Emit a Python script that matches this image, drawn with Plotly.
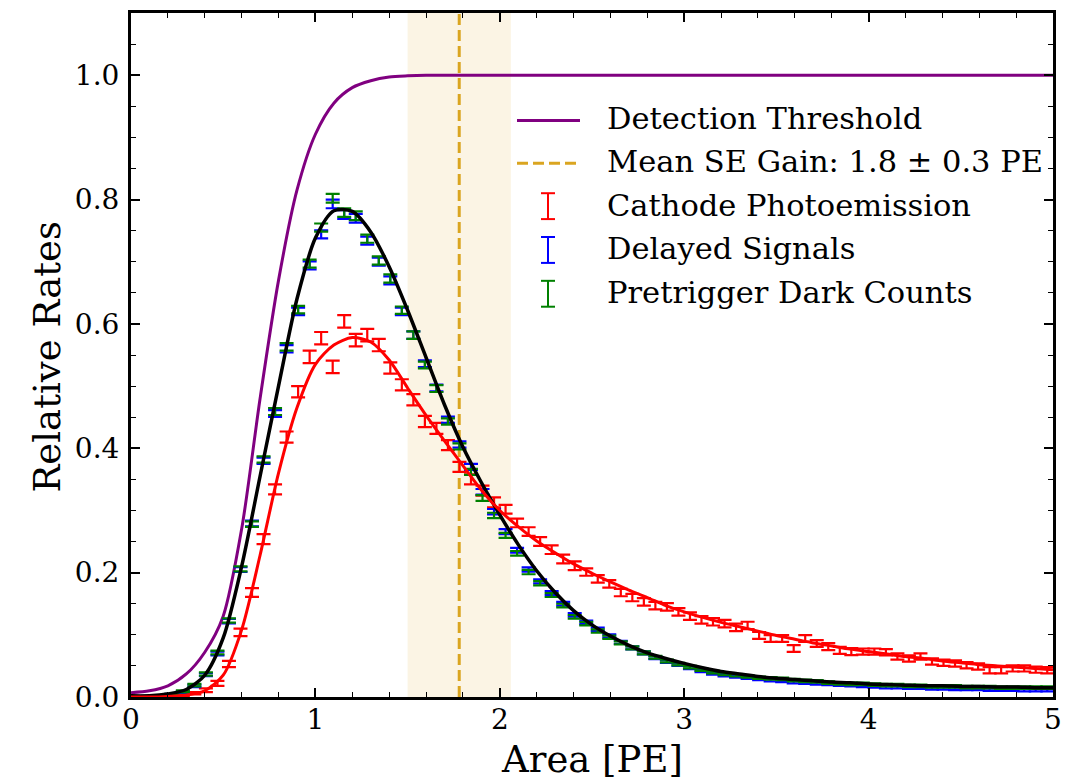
import plotly.graph_objects as go

# ---------------- data ----------------
BIN_WIDTH = 0.0625
N_BINS = 80
bin_centers = [BIN_WIDTH * (i + 0.5) for i in range(N_BINS)]

cathode_rate = [0.000, 0.000, 0.001, 0.002, 0.003, 0.006, 0.011, 0.022, 0.053, 0.104,
                0.168, 0.254, 0.334, 0.418, 0.491, 0.547, 0.577, 0.531, 0.604, 0.574,
                0.582, 0.566, 0.529, 0.502, 0.478, 0.443, 0.432, 0.405, 0.370, 0.350,
                0.332, 0.313, 0.302, 0.280, 0.266, 0.250, 0.237, 0.222, 0.211, 0.201,
                0.190, 0.182, 0.168, 0.160, 0.153, 0.147, 0.145, 0.137, 0.130, 0.124,
                0.121, 0.118, 0.112, 0.115, 0.099, 0.094, 0.094, 0.078, 0.094, 0.086,
                0.081, 0.075, 0.073, 0.073, 0.073, 0.072, 0.065, 0.062, 0.065, 0.057,
                0.055, 0.054, 0.051, 0.049, 0.043, 0.043, 0.046, 0.046, 0.044, 0.043]
cathode_err = [0.001, 0.001, 0.001, 0.0015, 0.002, 0.002, 0.003, 0.004, 0.005, 0.006,
               0.007, 0.008, 0.008, 0.009, 0.009, 0.010, 0.010, 0.010, 0.010, 0.010,
               0.010, 0.010, 0.009, 0.009, 0.009, 0.009, 0.009, 0.008, 0.008, 0.008,
               0.008, 0.008, 0.007, 0.007, 0.007, 0.007, 0.007, 0.007, 0.007, 0.006,
               0.006, 0.006, 0.006, 0.006, 0.006, 0.006, 0.006, 0.006, 0.006, 0.006,
               0.006, 0.006, 0.006, 0.006, 0.0055, 0.0055, 0.0055, 0.0055, 0.0055, 0.0055,
               0.0055, 0.0055, 0.0055, 0.005, 0.005, 0.005, 0.005, 0.005, 0.005, 0.005,
               0.005, 0.005, 0.005, 0.005, 0.005, 0.005, 0.005, 0.005, 0.005, 0.005]

delayed_rate = [0.000, 0.001, 0.002, 0.004, 0.008, 0.018, 0.036, 0.070, 0.122, 0.205,
                0.279, 0.380, 0.456, 0.560, 0.620, 0.694, 0.744, 0.793, 0.776, 0.770,
                0.734, 0.700, 0.670, 0.620, 0.582, 0.536, 0.497, 0.446, 0.406, 0.370,
                0.330, 0.298, 0.266, 0.236, 0.205, 0.186, 0.167, 0.150, 0.132, 0.120,
                0.109, 0.098, 0.088, 0.079, 0.071, 0.063, 0.057, 0.052, 0.047, 0.042,
                0.038, 0.035, 0.033, 0.031, 0.029, 0.027, 0.026, 0.024, 0.023, 0.022,
                0.021, 0.020, 0.019, 0.018, 0.017, 0.016, 0.016, 0.015, 0.015, 0.014,
                0.014, 0.013, 0.013, 0.013, 0.012, 0.012, 0.012, 0.011, 0.011, 0.011]

pretrigger_rate = [0.000, 0.001, 0.002, 0.004, 0.009, 0.019, 0.037, 0.0715, 0.123, 0.206,
                   0.278, 0.382, 0.459, 0.563, 0.623, 0.697, 0.755, 0.802, 0.779, 0.774,
                   0.737, 0.702, 0.673, 0.622, 0.582, 0.534, 0.496, 0.443, 0.403, 0.362,
                   0.320, 0.292, 0.260, 0.231, 0.201, 0.183, 0.164, 0.147, 0.129, 0.118,
                   0.106, 0.096, 0.087, 0.079, 0.071, 0.064, 0.058, 0.053, 0.048, 0.044,
                   0.040, 0.037, 0.035, 0.033, 0.031, 0.030, 0.029, 0.027, 0.026, 0.025,
                   0.023, 0.022, 0.021, 0.021, 0.020, 0.019, 0.019, 0.018, 0.018, 0.017,
                   0.017, 0.017, 0.016, 0.016, 0.016, 0.015, 0.015, 0.015, 0.015, 0.015]

# shared statistical errors of the two high-statistics samples
single_e_err = [0.0005, 0.0008, 0.001, 0.0012, 0.0015, 0.002, 0.0025, 0.003, 0.0035, 0.004,
                0.0045, 0.005, 0.0055, 0.006, 0.006, 0.0065, 0.0065, 0.007, 0.007, 0.007,
                0.0065, 0.0065, 0.0065, 0.006, 0.006, 0.0055, 0.0055, 0.005, 0.005, 0.0048,
                0.0045, 0.0043, 0.004, 0.0038, 0.0036, 0.0034, 0.0032, 0.003, 0.0029, 0.0028,
                0.0027, 0.0026, 0.0025, 0.0024, 0.0023, 0.0022, 0.0022, 0.0021, 0.0021, 0.002,
                0.002, 0.002, 0.002, 0.002, 0.002, 0.002, 0.002, 0.002, 0.002, 0.002,
                0.002, 0.002, 0.002, 0.002, 0.002, 0.002, 0.002, 0.002, 0.002, 0.002,
                0.002, 0.002, 0.002, 0.002, 0.002, 0.002, 0.002, 0.002, 0.002, 0.002]

# smooth curves sampled every 0.1 PE
curve_x = [round(0.1 * i, 1) for i in range(51)]
threshold_curve = [0.007, 0.010, 0.018, 0.037, 0.072, 0.130, 0.270, 0.480, 0.670, 0.815,
                   0.905, 0.955, 0.980, 0.991, 0.997, 0.999, 1.000, 1.000, 1.000, 1.000,
                   1.000, 1.000, 1.000, 1.000, 1.000, 1.000, 1.000, 1.000, 1.000, 1.000,
                   1.000, 1.000, 1.000, 1.000, 1.000, 1.000, 1.000, 1.000, 1.000, 1.000,
                   1.000, 1.000, 1.000, 1.000, 1.000, 1.000, 1.000, 1.000, 1.000, 1.000, 1.000]
se_fit_curve = [0.002, 0.002, 0.005, 0.012, 0.035, 0.095, 0.210, 0.355, 0.500, 0.640,
                0.738, 0.782, 0.781, 0.748, 0.692, 0.622, 0.546, 0.470, 0.402, 0.345,
                0.293, 0.245, 0.203, 0.168, 0.139, 0.116, 0.098, 0.083, 0.071, 0.062,
                0.054, 0.047, 0.041, 0.037, 0.033, 0.030, 0.028, 0.026, 0.024, 0.023,
                0.021, 0.020, 0.019, 0.018, 0.018, 0.017, 0.017, 0.016, 0.016, 0.015, 0.015]
cathode_fit_curve = [0.000, 0.000, 0.001, 0.003, 0.010, 0.035, 0.108, 0.228, 0.360, 0.465,
                     0.535, 0.566, 0.578, 0.571, 0.542, 0.497, 0.453, 0.412, 0.372, 0.333,
                     0.300, 0.274, 0.251, 0.232, 0.214, 0.199, 0.185, 0.172, 0.160, 0.147,
                     0.137, 0.128, 0.120, 0.113, 0.106, 0.099, 0.093, 0.087, 0.082, 0.077,
                     0.073, 0.069, 0.065, 0.062, 0.058, 0.055, 0.052, 0.050, 0.048, 0.046, 0.044]

SE_GAIN_MEAN = 1.78
SE_GAIN_SIGMA = 0.28

legend_labels = ["Detection Threshold", "Mean SE Gain: 1.8 \u00b1 0.3 PE",
                 "Cathode Photoemission", "Delayed Signals", "Pretrigger Dark Counts"]

x_tick_vals = [0, 1, 2, 3, 4, 5]
y_tick_vals = [0.0, 0.2, 0.4, 0.6, 0.8, 1.0]

# ---------------- style ----------------
FONT = "DejaVu Serif"
PURPLE = "#800080"
GOLD = "#DAA520"
RED = "#FF0000"
BLUE = "#0000FF"
GREEN = "#008000"

fig = go.Figure()

fig.add_vrect(x0=SE_GAIN_MEAN - SE_GAIN_SIGMA, x1=SE_GAIN_MEAN + SE_GAIN_SIGMA,
              fillcolor="rgba(218,165,32,0.12)", line_width=0, layer="below")
fig.add_vline(x=SE_GAIN_MEAN, line=dict(color=GOLD, width=3, dash="11px,5px"), layer="below")

fig.add_trace(go.Scatter(x=curve_x, y=threshold_curve, mode="lines",
                         line=dict(color=PURPLE, width=3, shape="spline", smoothing=0.8),
                         showlegend=False, hoverinfo="skip"))


def err_trace(y, err, color):
    return go.Scatter(x=bin_centers, y=y, mode="markers",
                      marker=dict(size=1, color="rgba(0,0,0,0)"),
                      error_y=dict(type="data", array=err, visible=True,
                                   color=color, thickness=2.2, width=7),
                      showlegend=False, hoverinfo="skip")


fig.add_trace(err_trace(cathode_rate, cathode_err, RED))
fig.add_trace(err_trace(delayed_rate, single_e_err, BLUE))
fig.add_trace(err_trace(pretrigger_rate, single_e_err, GREEN))

fig.add_trace(go.Scatter(x=curve_x, y=se_fit_curve, mode="lines",
                         line=dict(color="black", width=3.5, shape="spline", smoothing=0.8),
                         showlegend=False, hoverinfo="skip"))
fig.add_trace(go.Scatter(x=curve_x, y=cathode_fit_curve, mode="lines",
                         line=dict(color=RED, width=3, shape="spline", smoothing=0.8),
                         showlegend=False, hoverinfo="skip"))

# ---------------- layout ----------------
L, R, T, B = 131, 28, 10, 83
W, H = 1081, 780
pw, ph = W - L - R, H - T - B


def px_x(p):
    return (p - L) / pw


def px_y(p):
    return (H - B - p) / ph


axis_common = dict(showline=True, linecolor="black", linewidth=3, mirror="ticks",
                   ticks="inside", ticklen=9, tickwidth=1.6, tickcolor="black",
                   showgrid=False, zeroline=False,
                   tickfont=dict(family=FONT, size=28, color="black"))

fig.update_xaxes(range=[0, 5], tickvals=x_tick_vals, ticktext=[str(v) for v in x_tick_vals],
                 minor=dict(ticks="inside", ticklen=5, tickwidth=1.3, dtick=0.2, tickcolor="black"),
                 ticklabelstandoff=-5, **axis_common)
fig.update_yaxes(range=[0, 1.1], tickvals=y_tick_vals, ticktext=[f"{v:.1f}" for v in y_tick_vals],
                 minor=dict(ticks="inside", ticklen=5, tickwidth=1.3, dtick=0.05, tickcolor="black"),
                 ticklabelstandoff=3, **axis_common)

shapes = []
annotations = []
rows = [116, 159, 203, 247, 291]
line_x0, line_x1, text_x, bar_x = 517, 580, 605, 548
# line samples
shapes.append(dict(type="line", xref="paper", yref="paper", x0=px_x(line_x0), x1=px_x(line_x1),
                   y0=px_y(rows[0] + 2), y1=px_y(rows[0] + 2), line=dict(color=PURPLE, width=3)))
shapes.append(dict(type="line", xref="paper", yref="paper", x0=px_x(line_x0), x1=px_x(line_x1),
                   y0=px_y(rows[1] + 2), y1=px_y(rows[1] + 2),
                   line=dict(color=GOLD, width=3, dash="11px,5px")))
for row, col in zip(rows[2:], [RED, BLUE, GREEN]):
    top, bot = row - 12, row + 14
    shapes.append(dict(type="line", xref="paper", yref="paper", x0=px_x(bar_x), x1=px_x(bar_x),
                       y0=px_y(top), y1=px_y(bot), line=dict(color=col, width=2)))
    for yy in (top, bot):
        shapes.append(dict(type="line", xref="paper", yref="paper", x0=px_x(bar_x - 7),
                           x1=px_x(bar_x + 7), y0=px_y(yy), y1=px_y(yy),
                           line=dict(color=col, width=2)))
for row, lab in zip(rows, legend_labels):
    annotations.append(dict(xref="paper", yref="paper", x=px_x(text_x), y=px_y(row),
                            xanchor="left", yanchor="middle", text=lab, showarrow=False,
                            font=dict(family=FONT, size=30.5, color="black")))

annotations.append(dict(xref="paper", yref="paper", x=0.5, y=px_y(760), xanchor="center",
                        yanchor="middle", text="Area [PE]", showarrow=False,
                        font=dict(family=FONT, size=37, color="black")))
annotations.append(dict(xref="paper", yref="paper", x=px_x(47), y=px_y(356), xanchor="center",
                        yanchor="middle", text="Relative Rates", textangle=-90, showarrow=False,
                        font=dict(family=FONT, size=37, color="black")))

fig.update_layout(width=W, height=H, margin=dict(l=L, r=R, t=T, b=B),
                  plot_bgcolor="white", paper_bgcolor="white",
                  shapes=list(fig.layout.shapes) + shapes, annotations=annotations,
                  showlegend=False)

fig.write_html("out.html")
